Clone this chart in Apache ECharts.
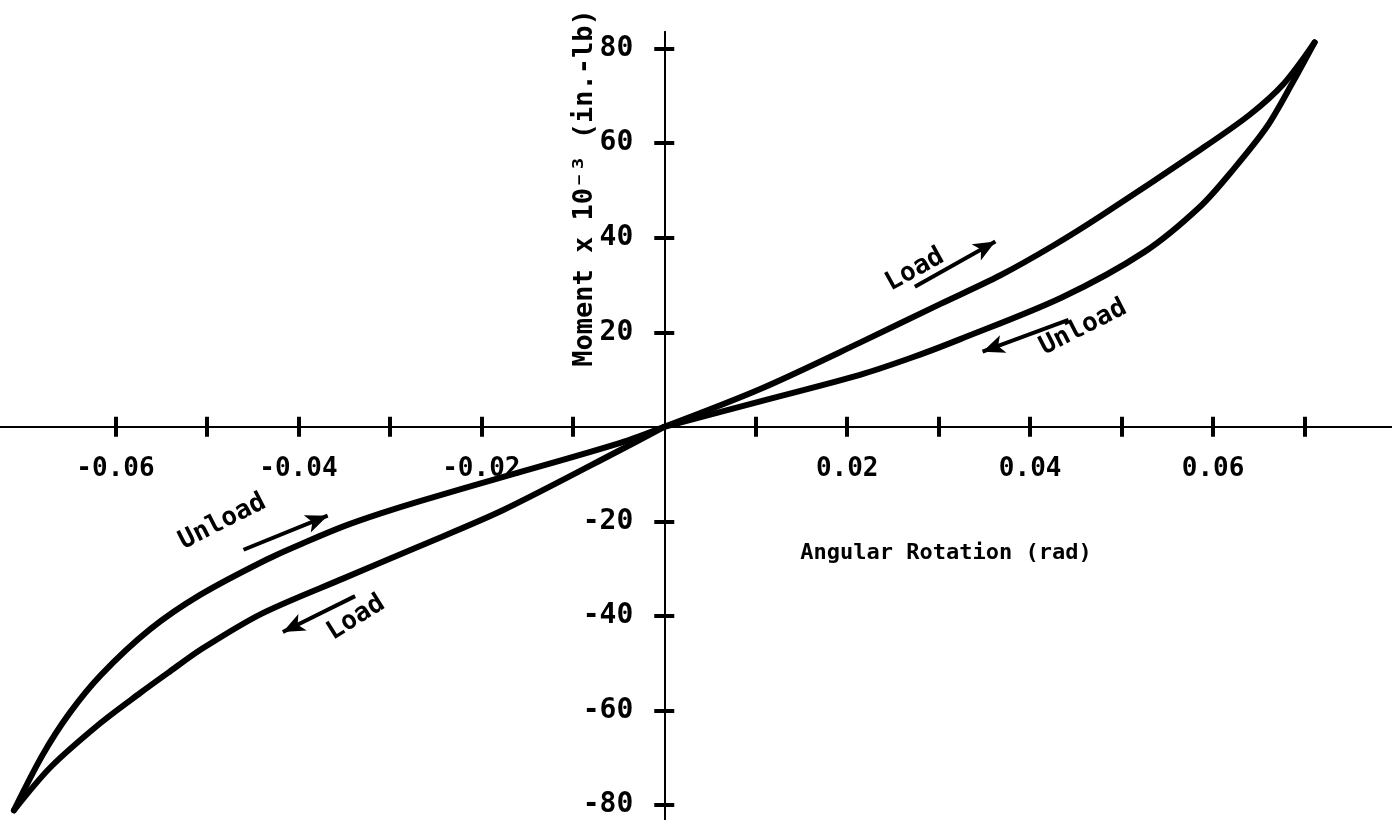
<!DOCTYPE html>
<html>
<head>
<meta charset="utf-8">
<script src="https://cdn.jsdelivr.net/npm/echarts@6/dist/echarts.min.js"></script>
<style>
  html, body { margin: 0; padding: 0; background: #fff; }
  #chart { width: 1392px; height: 820px; }
</style>
</head>
<body>
<div id="chart"></div>
<script>
// moment-rotation hysteresis loop
var loadPosX   = [0, 0.0105, 0.0214, 0.0302, 0.0367, 0.0425, 0.0478, 0.0586, 0.0640, 0.0677, 0.0711];
var loadPosY   = [0, 8.0, 17.8, 26.0, 32.0, 38.3, 44.7, 58.6, 66.0, 72.5, 81.3];
var unloadPosX = [0.0711, 0.0687, 0.0659, 0.0622, 0.0586, 0.0525, 0.0434, 0.0323, 0.0270, 0.0214, 0.0105, 0];
var unloadPosY = [81.3, 72.8, 63.5, 54.4, 46.6, 37.0, 27.3, 18.5, 14.6, 11.0, 5.4, 0];
var loadNegX   = [0, -0.0048, -0.0176, -0.0267, -0.0350, -0.0440, -0.0505, -0.0543, -0.0573, -0.0616, -0.0671, -0.0711];
var loadNegY   = [0, -4.9, -17.6, -25.2, -32.0, -39.5, -46.9, -52.1, -56.3, -62.6, -72.0, -81.1];
var unloadNegX = [-0.0711, -0.0680, -0.0650, -0.0616, -0.0562, -0.0507, -0.0434, -0.0390, -0.0350, -0.0310, -0.0267, -0.0176, -0.0048, 0];
var unloadNegY = [-81.1, -69.5, -60.5, -52.5, -42.8, -35.5, -28.0, -24.2, -21.0, -18.3, -15.7, -10.6, -3.4, 0];

// tick marks and labels
var xTicks  = [-0.06, -0.05, -0.04, -0.03, -0.02, -0.01, 0.01, 0.02, 0.03, 0.04, 0.05, 0.06, 0.07];
var xLabels = [-0.06, -0.04, -0.02, 0.02, 0.04, 0.06];
var yTicks  = [-80, -60, -40, -20, 20, 40, 60, 80];
var yLabels = [-80, -60, -40, -20, 20, 40, 60, 80];

// direction notes: text, position, angle
var noteText = ['Load', 'Unload', 'Unload', 'Load'];
var noteX    = [0.0274, 0.0458, -0.0483, -0.0337];
var noteY    = [33.2, 21.0, -20.1, -40.4];
var noteRot  = [29, 27, 27, 32];

// arrows: start and end points
var arrowFrom = [[0.0274, 29.6], [0.0442, 22.6], [-0.0460, -26.0], [-0.0338, -35.8]];
var arrowTo   = [[0.0362, 39.2], [0.0348, 15.9], [-0.0368, -18.8], [-0.0417, -43.4]];

var FONT = '"DejaVu Sans Mono", monospace';

var X_MIN = -0.075, X_MAX = 0.08, Y_MIN = -84, Y_MAX = 83.5;
var W = 1392, H = 820;
var PX_PER_X = 1372 / 0.15;
var G = { left: 24 - 0.005 * PX_PER_X, right: -4, top: 32, bottom: -4 };
var gridW = W - G.left - G.right;
var gridH = H - G.top - G.bottom;
// distance of the zero lines from the grid's left / bottom edge
var zeroFromLeft = (0 - X_MIN) / (X_MAX - X_MIN) * gridW;
var zeroFromBottom = (0 - Y_MIN) / (Y_MAX - Y_MIN) * gridH;

function pairs(xs, ys) {
    var out = [];
    for (var i = 0; i < xs.length; i++) {
        out.push([xs[i], ys[i]]);
    }
    return out;
}

function branch(xs, ys) {
    return {
        type: 'line',
        data: pairs(xs, ys),
        smooth: 0.3,
        symbol: 'none',
        clip: false,
        lineStyle: { color: '#000', width: 6, cap: 'round', join: 'round' },
        silent: true
    };
}

var arrowLines = [];
for (var i = 0; i < arrowFrom.length; i++) {
    arrowLines.push([{ coord: arrowFrom[i] }, { coord: arrowTo[i] }]);
}

var notes = [];
for (var j = 0; j < noteText.length; j++) {
    notes.push({
        value: [noteX[j], noteY[j]],
        label: { rotate: noteRot[j], formatter: noteText[j] }
    });
}

var tickStyle = { color: '#000', width: 4 };
var axisLineStyle = { color: '#000', width: 2 };
var labelFont = { color: '#000', fontFamily: FONT, fontWeight: 'bold' };

var myChart = echarts.init(document.getElementById('chart'));

var option = {
    backgroundColor: '#fff',
    animation: false,
    grid: { left: G.left, right: G.right, top: G.top, bottom: G.bottom, outerBoundsMode: 'none', containLabel: false },
    xAxis: [
        {   // axis line + lower half of ticks
            type: 'value', min: X_MIN, max: X_MAX,
            axisLine: { onZero: true, lineStyle: axisLineStyle },
            axisTick: { customValues: xTicks, length: 10, lineStyle: tickStyle },
            axisLabel: { show: false },
            splitLine: { show: false }
        },
        {   // upper half of ticks
            type: 'value', min: X_MIN, max: X_MAX, position: 'bottom',
            axisLine: { onZero: true, lineStyle: axisLineStyle },
            axisTick: { customValues: xTicks, inside: true, length: 10, lineStyle: tickStyle },
            axisLabel: { show: false },
            splitLine: { show: false }
        },
        {   // tick labels, moved up to the zero line
            type: 'value', min: X_MIN, max: X_MAX, position: 'bottom',
            offset: -zeroFromBottom,
            axisLine: { show: false, onZero: false },
            axisTick: { show: false },
            axisLabel: echarts.util.extend({
                customValues: xLabels, margin: 29, fontSize: 26,
                formatter: function (v) { return v.toFixed(2); }
            }, labelFont),
            splitLine: { show: false }
        }
    ],
    yAxis: [
        {
            type: 'value', min: Y_MIN, max: Y_MAX,
            axisLine: { onZero: true, lineStyle: axisLineStyle },
            axisTick: { customValues: yTicks, length: 10, lineStyle: tickStyle },
            axisLabel: { show: false },
            splitLine: { show: false }
        },
        {
            type: 'value', min: Y_MIN, max: Y_MAX, position: 'left',
            axisLine: { onZero: true, lineStyle: axisLineStyle },
            axisTick: { customValues: yTicks, inside: true, length: 10, lineStyle: tickStyle },
            axisLabel: { show: false },
            splitLine: { show: false }
        },
        {
            type: 'value', min: Y_MIN, max: Y_MAX, position: 'left',
            offset: -zeroFromLeft,
            axisLine: { show: false, onZero: false },
            axisTick: { show: false },
            axisLabel: echarts.util.extend({
                customValues: yLabels, margin: 31, fontSize: 28
            }, labelFont),
            splitLine: { show: false }
        }
    ],
    graphic: [
        {
            type: 'text', x: 946, y: 553,
            style: {
                text: 'Angular Rotation (rad)', fill: '#000',
                font: 'bold 22px ' + FONT, align: 'center', verticalAlign: 'middle'
            }
        },
        {
            type: 'text', x: 585, y: 188, rotation: Math.PI / 2,
            style: {
                text: 'Moment x 10\u207B\u00B3 (in.-lb)', fill: '#000',
                font: 'bold 27px ' + FONT, align: 'center', verticalAlign: 'middle'
            }
        }
    ],
    series: [
        branch(loadPosX, loadPosY),
        branch(unloadPosX, unloadPosY),
        branch(loadNegX, loadNegY),
        branch(unloadNegX, unloadNegY),
        {
            type: 'scatter',
            symbolSize: 0,
            silent: true,
            itemStyle: { opacity: 1, color: '#000' },
            data: notes,
            label: {
                show: true, position: 'inside', color: '#000',
                textBorderWidth: 0,
                fontFamily: FONT, fontSize: 26, fontWeight: 'bold'
            },
            markLine: {
                silent: true,
                symbol: ['none', 'arrow'],
                symbolSize: [14, 22],
                label: { show: false },
                lineStyle: { color: '#000', width: 4, type: 'solid', opacity: 1 },
                data: arrowLines
            }
        }
    ]
};

myChart.setOption(option);
</script>
</body>
</html>
